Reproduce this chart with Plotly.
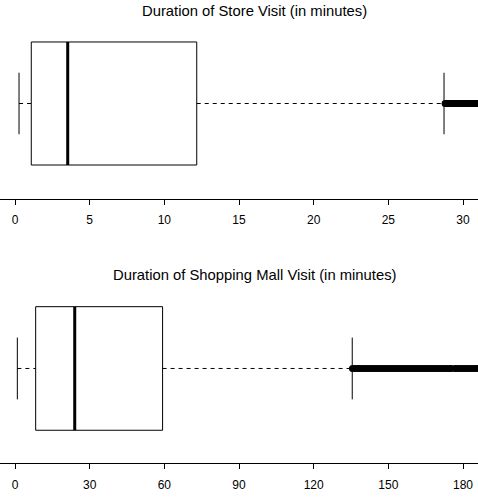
import plotly.graph_objects as go

# ---- data ----
store_title = "Duration of Store Visit (in minutes)"
mall_title = "Duration of Shopping Mall Visit (in minutes)"

# five-number summaries: lower whisker, Q1, median, Q3, upper whisker
store_stats = [0.27, 1.09, 3.53, 12.17, 28.73]
mall_stats = [0.94, 8.3, 24.0, 59.3, 135.5]

store_outliers = [28.8, 28.9, 29.0, 29.1, 29.2, 29.3, 29.4, 29.5, 29.6, 29.7,
                  29.8, 29.9, 30.0, 30.1, 30.2, 30.3, 30.4, 30.5, 30.6, 30.7,
                  30.8, 30.9, 31.0, 31.1, 31.2, 31.4]
mall_outliers = [135.6, 136.5, 137.5, 138.5, 139.5, 140.5, 141.5, 142.5, 143.5,
                 144.5, 145.5, 146.5, 147.5, 148.5, 149.5, 150.5, 151.5, 152.5,
                 153.5, 154.5, 155.5, 156.5, 157.5, 158.5, 159.5, 160.5, 161.5,
                 162.5, 163.5, 164.5, 165.5, 166.5, 167.5, 168.5, 169.5, 170.5,
                 171.5, 172.5, 173.5, 174.5, 175.3, 176.8, 177.5, 178.5, 179.5,
                 180.5, 181.5, 182.5, 183.5, 184.5, 185.5, 186.5, 187.5]

store_ticks = [0, 5, 10, 15, 20, 25, 30]
mall_ticks = [0, 30, 60, 90, 120, 150, 180]

# ---- figure ----
W, H = 478, 497
FONT = "Liberation Sans, Arial, Helvetica, sans-serif"
CENTER = 1.0
HALF = 0.4  # half box width (boxwex 0.8)

fig = go.Figure()


def add_panel(stats, outliers, xa, ya):
    lo, q1, med, q3, hi = stats
    xref = dict(xaxis=xa, yaxis=ya, showlegend=False, hoverinfo="skip")
    line = dict(color="black", width=1)
    # box
    fig.add_trace(go.Scatter(x=[q1, q3, q3, q1, q1],
                             y=[CENTER - HALF, CENTER - HALF, CENTER + HALF, CENTER + HALF, CENTER - HALF],
                             mode="lines", line=line, **xref))
    # whiskers (dashed)
    fig.add_trace(go.Scatter(x=[lo, q1], y=[CENTER, CENTER], mode="lines",
                             line=dict(color="black", width=1, dash="4px,4px"), **xref))
    fig.add_trace(go.Scatter(x=[q3, hi], y=[CENTER, CENTER], mode="lines",
                             line=dict(color="black", width=1, dash="4px,4px"), **xref))
    # staples
    for v in (lo, hi):
        fig.add_trace(go.Scatter(x=[v, v], y=[CENTER - HALF / 2, CENTER + HALF / 2],
                                 mode="lines", line=line, **xref))
    # median
    fig.add_trace(go.Scatter(x=[med, med], y=[CENTER - HALF, CENTER + HALF], mode="lines",
                             line=dict(color="black", width=3), **xref))
    # outliers
    fig.add_trace(go.Scatter(x=outliers, y=[CENTER] * len(outliers), mode="markers",
                             marker=dict(color="black", size=7, line=dict(width=0)),
                             cliponaxis=True, **xref))


add_panel(store_stats, store_outliers, "x", "y")
add_panel(mall_stats, mall_outliers, "x2", "y2")

xcommon = dict(showgrid=False, zeroline=False, showline=True, linecolor="black",
               linewidth=1, ticks="outside", ticklen=5, tickcolor="black", tickwidth=1,
               tickfont=dict(family=FONT, size=12, color="black"), ticklabelstandoff=5)
ycommon = dict(showgrid=False, zeroline=False, showline=False, showticklabels=False,
               ticks="")

# pixel geometry -> domains/ranges
def xr(ticks):
    span = ticks[-1] - ticks[0]
    ppu = 448 / span
    return [ticks[0] - 15 / ppu, ticks[-1] + 15 / ppu]

fig.update_layout(
    width=W, height=H,
    margin=dict(l=0, r=0, t=0, b=0),
    paper_bgcolor="white", plot_bgcolor="white",
    xaxis=dict(domain=[0, 1], range=xr(store_ticks), tickvals=store_ticks,
               ticktext=[str(t) for t in store_ticks], anchor="y", **xcommon),
    yaxis=dict(domain=[1 - 199 / H, 1], range=[0.379, 1.673], anchor="x", **ycommon),
    xaxis2=dict(domain=[0, 1], range=xr(mall_ticks), tickvals=mall_ticks,
                ticktext=[str(t) for t in mall_ticks], anchor="y2", **xcommon),
    yaxis2=dict(domain=[1 - 463.3 / H, 1 - 250 / H], range=[0.386, 1.767], anchor="x2", **ycommon),
    annotations=[
        dict(text=store_title, x=254 / W, y=1 - 11 / H, xref="paper", yref="paper",
             showarrow=False, xanchor="center", yanchor="middle",
             font=dict(family=FONT, size=14.8, color="black")),
        dict(text=mall_title, x=255.5 / W, y=1 - 275 / H, xref="paper", yref="paper",
             showarrow=False, xanchor="center", yanchor="middle",
             font=dict(family=FONT, size=14.8, color="black")),
    ],
)

fig.write_html("out.html", config={"displayModeBar": False},
               post_script="document.body.style.margin='0px';")
